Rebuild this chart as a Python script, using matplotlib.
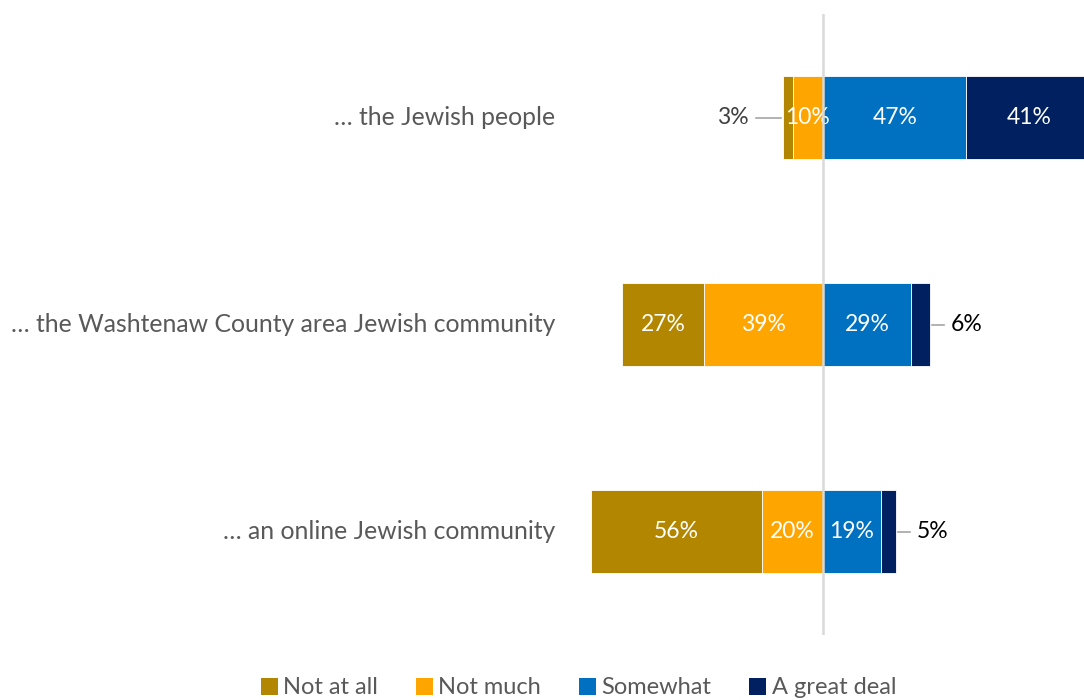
import matplotlib
matplotlib.use("Agg")
import matplotlib.pyplot as plt
from matplotlib.patches import Patch

plt.rcParams["font.family"] = ["Lato", "DejaVu Sans"]

categories = [
    "\u2026 the Jewish people",
    "\u2026 the Washtenaw County area Jewish community",
    "\u2026 an online Jewish community",
]
not_at_all = [3, 27, 56]
not_much = [10, 39, 20]
somewhat = [47, 29, 19]
great_deal = [41, 6, 5]

levels = ["Not at all", "Not much", "Somewhat", "A great deal"]
colors = ["#B38600", "#FFA500", "#0070C0", "#002060"]

W, H = 1084, 700
fig = plt.figure(figsize=(W / 100, H / 100), dpi=100)
# axes placed so the zero line sits at ~823 px and 1% ~ 3.05 px
ax = fig.add_axes([560.7 / W, 65 / H, 524.6 / W, 621 / H])
ax.set_xlim(-86, 86)
ax.set_ylim(2.5, -0.5)
ax.axis("off")

bar_h = 0.4
label_color = "#595959"

for i, cat in enumerate(categories):
    # negative side: "Not much" next to zero, "Not at all" further left
    left_vals = [(not_much[i], colors[1], -not_much[i]),
                 (not_at_all[i], colors[0], -not_much[i] - not_at_all[i])]
    right_vals = [(somewhat[i], colors[2], 0),
                  (great_deal[i], colors[3], somewhat[i])]
    for val, col, start in left_vals + right_vals:
        ax.barh(i, val, left=start, height=bar_h, color=col,
                edgecolor="white", linewidth=0.6)
        if val >= 10:
            ax.text(start + val / 2, i, f"{val}%", ha="center", va="center",
                    color="white", fontsize=16.5)

    ax.text(-87.8, i, cat, ha="right", va="center", color=label_color,
            fontsize=17.8, clip_on=False)

# small segments get an outside label with a leader line
x0 = -(not_at_all[0] + not_much[0])
ax.plot([x0 - 0.7, x0 - 9], [0, 0], color="#A6A6A6", lw=1.2)
ax.text(x0 - 11.5, 0, f"{not_at_all[0]}%", ha="right", va="center",
        color="#404040", fontsize=16.5)

for i in (1, 2):
    x1 = somewhat[i] + great_deal[i]
    ax.plot([x1 + 0.7, x1 + 4.6], [i, i], color="#A6A6A6", lw=1.2)
    ax.text(x1 + 6.8, i, f"{great_deal[i]}%", ha="left", va="center",
            color="black", fontsize=16.5)

ax.axvline(0, ymin=0, ymax=1, color="#D9D9D9", lw=1.8, zorder=5)

handles = [Patch(facecolor=c, edgecolor="none") for c in colors]
fig.legend(handles, levels, loc="center", bbox_to_anchor=(578.5 / W, 12 / H),
           ncol=4, frameon=False, fontsize=17, handlelength=0.7,
           handleheight=0.7, handletextpad=0.25, columnspacing=1.6,
           labelcolor=label_color)

fig.savefig("out.png", dpi=100)
